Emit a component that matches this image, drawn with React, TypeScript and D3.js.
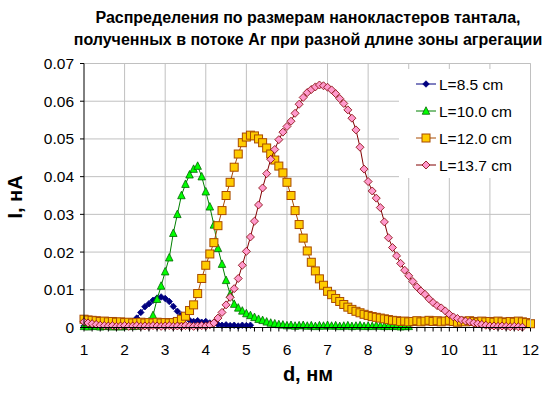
import React from "react";
import * as d3 from "d3";

const X_START = 1.0;
const X_STEP = 0.1;

const blueY = [
  0.0004, 0.0003, 0.0005, 0.0003, 0.0004, 0.0003, 0.0005, 0.0004, 0.0003, 0.0005,
  0.0004, 0.0006, 0.0012, 0.0025, 0.0040, 0.0055, 0.0063, 0.0072, 0.0078, 0.0081,
  0.0077, 0.0069, 0.0056, 0.0043, 0.0033, 0.0024, 0.0019, 0.0016, 0.0018, 0.0014,
  0.0016, 0.0012, 0.0013, 0.0008, 0.0006, 0.0007, 0.0005, 0.0006, 0.0004, 0.0006,
  0.0005, 0.0006,
];

const greenY = [
  0.0003, 0.0002, 0.0004, 0.0003, 0.0002, 0.0003, 0.0004, 0.0002, 0.0003, 0.0002,
  0.0003, 0.0004, 0.0003, 0.0004, 0.0005, 0.0006, 0.0015, 0.0032, 0.0075, 0.0110,
  0.0148, 0.0185, 0.0250, 0.0300, 0.0350, 0.0380, 0.0405, 0.0420, 0.0428, 0.0400,
  0.0360, 0.0320, 0.0272, 0.0210, 0.0168, 0.0125, 0.0088, 0.0062, 0.0052, 0.0044,
  0.0037, 0.0032, 0.0027, 0.0022, 0.0019, 0.0015, 0.0012, 0.0010, 0.0008, 0.0007,
  0.0005, 0.0006, 0.0004, 0.0005, 0.0006, 0.0004, 0.0005, 0.0003, 0.0005, 0.0004,
  0.0006, 0.0004, 0.0005, 0.0003, 0.0004, 0.0005, 0.0003, 0.0004, 0.0005, 0.0003,
  0.0004, 0.0003, 0.0005, 0.0004, 0.0003, 0.0004, 0.0003, 0.0004, 0.0002, 0.0003,
  0.0003,
];

const yellowY = [
  0.0022, 0.0020, 0.0019, 0.0018, 0.0016, 0.0017, 0.0015, 0.0016, 0.0014, 0.0015,
  0.0013, 0.0014, 0.0012, 0.0013, 0.0014, 0.0012, 0.0013, 0.0012, 0.0014, 0.0012,
  0.0013, 0.0012, 0.0013, 0.0016, 0.0022, 0.0030, 0.0045, 0.0060, 0.0090, 0.0130,
  0.0165, 0.0195, 0.0225, 0.0270, 0.0310, 0.0350, 0.0385, 0.0425, 0.0460, 0.0490,
  0.0505, 0.0510, 0.0508, 0.0500, 0.0490, 0.0476, 0.0460, 0.0444, 0.0428, 0.0410,
  0.0385, 0.0350, 0.0310, 0.0273, 0.0237, 0.0203, 0.0173, 0.0150, 0.0129, 0.0112,
  0.0096, 0.0087, 0.0077, 0.0069, 0.0061, 0.0054, 0.0048, 0.0043, 0.0039, 0.0035,
  0.0032, 0.0029, 0.0027, 0.0025, 0.0023, 0.0021, 0.0019, 0.0018, 0.0016, 0.0017,
  0.0015, 0.0016, 0.0018, 0.0015, 0.0017, 0.0019, 0.0016, 0.0018, 0.0015, 0.0017,
  0.0019, 0.0016, 0.0014, 0.0017, 0.0015, 0.0018, 0.0016, 0.0014, 0.0017, 0.0015,
  0.0016, 0.0014, 0.0017, 0.0015, 0.0013, 0.0016, 0.0014, 0.0017, 0.0015, 0.0013,
  0.0010,
];

const pinkY = [
  0.0015, 0.0012, 0.0010, 0.0008, 0.0006, 0.0005, 0.0004, 0.0005, 0.0003, 0.0004,
  0.0005, 0.0003, 0.0004, 0.0005, 0.0003, 0.0004, 0.0003, 0.0005, 0.0004, 0.0003,
  0.0004, 0.0005, 0.0003, 0.0004, 0.0003, 0.0005, 0.0004, 0.0003, 0.0004, 0.0005,
  0.0004, 0.0007, 0.0012, 0.0025, 0.0040, 0.0060, 0.0080, 0.0103, 0.0130, 0.0165,
  0.0202, 0.0240, 0.0282, 0.0325, 0.0370, 0.0408, 0.0446, 0.0472, 0.0498, 0.0518,
  0.0533, 0.0547, 0.0568, 0.0592, 0.0610, 0.0623, 0.0631, 0.0638, 0.0643, 0.0641,
  0.0637, 0.0630, 0.0620, 0.0607, 0.0594, 0.0577, 0.0555, 0.0524, 0.0478, 0.0420,
  0.0387, 0.0362, 0.0343, 0.0318, 0.0280, 0.0238, 0.0212, 0.0190, 0.0170, 0.0152,
  0.0137, 0.0122, 0.0108, 0.0097, 0.0088, 0.0076, 0.0066, 0.0058, 0.0052, 0.0044,
  0.0035, 0.0028, 0.0024, 0.0020, 0.0017, 0.0015, 0.0012, 0.0010, 0.0008, 0.0006,
  0.0004, 0.0004, 0.0003, 0.0004, 0.0003, 0.0002, 0.0003, 0.0002, 0.0001,
];

const seriesNames = ["L=8.5 cm", "L=10.0 cm", "L=12.0 cm", "L=13.7 cm"];
const xTicks = [1, 2, 3, 4, 5, 6, 7, 8, 9, 10, 11, 12];
const yTicks = [0, 0.01, 0.02, 0.03, 0.04, 0.05, 0.06, 0.07];
const titleLines = [
  "Распределения по размерам нанокластеров тантала,",
  "полученных в потоке Ar при разной длине зоны агрегации",
];
const xLabel = "d, нм";
const yLabel = "I, нА";

const FONT = "'Liberation Sans', Arial, sans-serif";

type Style = { line: string; fill: string; stroke: string; shape: string; size: number };
const styles: Style[] = [
  { line: "#000080", fill: "#000080", stroke: "#000080", shape: "diamond", size: 6.5 },
  { line: "#008000", fill: "#00FF00", stroke: "#006400", shape: "triangle", size: 7.5 },
  { line: "#A84A00", fill: "#FFCC00", stroke: "#A84A00", shape: "square", size: 8 },
  { line: "#800000", fill: "#FF99CC", stroke: "#800000", shape: "diamond", size: 8 },
];

function Marker({ cx, cy, s }: { cx: number; cy: number; s: Style }) {
  const h = s.size / 2;
  if (s.shape === "square") {
    return <rect x={cx - h} y={cy - h} width={s.size} height={s.size} fill={s.fill} stroke={s.stroke} strokeWidth={1} />;
  }
  if (s.shape === "triangle") {
    return (
      <path d={`M${cx},${cy - h - 0.5}L${cx + h},${cy + h - 0.5}L${cx - h},${cy + h - 0.5}Z`} fill={s.fill} stroke={s.stroke} strokeWidth={0.8} />
    );
  }
  return <path d={`M${cx},${cy - h}L${cx + h},${cy}L${cx},${cy + h}L${cx - h},${cy}Z`} fill={s.fill} stroke={s.stroke} strokeWidth={0.8} />;
}

export default function App() {
  const W = 548;
  const H = 397;
  const left = 84;
  const right = 530.5;
  const top = 63.5;
  const bottom = 327.5;

  const x = d3.scaleLinear().domain([1, 12]).range([left, right]);
  const y = d3.scaleLinear().domain([0, 0.07]).range([bottom, top]);

  const allSeries = [blueY, greenY, yellowY, pinkY].map((arr) =>
    arr.map((v, i) => ({ x: +(X_START + i * X_STEP).toFixed(2), y: v }))
  );

  const line = d3
    .line<{ x: number; y: number }>()
    .x((d) => x(d.x))
    .y((d) => y(d.y));

  const minorTicks = d3.range(0, 56).map((i) => 1 + i * 0.2);

  return (
    <svg width={W} height={H} style={{ position: "absolute", left: 0, top: 0, background: "#fff" }} fontFamily={FONT}>
      <rect x={0} y={0} width={W} height={H} fill="#fff" />
      {/* title */}
      {titleLines.map((t, i) => (
        <text key={i} x={308} y={23 + i * 22} textAnchor="middle" fontWeight="bold" fontSize={16} fill="#000">
          {t}
        </text>
      ))}
      {/* grid */}
      {xTicks.slice(1).map((t) => (
        <line key={"gx" + t} x1={x(t)} x2={x(t)} y1={top} y2={bottom} stroke="#C0C0C0" strokeWidth={1} />
      ))}
      {yTicks.slice(1).map((t) => (
        <line key={"gy" + t} x1={left} x2={right} y1={y(t)} y2={y(t)} stroke="#C0C0C0" strokeWidth={1} />
      ))}
      {/* series */}
      {allSeries.map((data, si) => (
        <g key={"s" + si}>
          <path d={line(data) || ""} fill="none" stroke={styles[si].line} strokeWidth={1} />
          {data.map((d, i) => (
            <Marker key={i} cx={x(d.x)} cy={y(d.y)} s={styles[si]} />
          ))}
        </g>
      ))}
      {/* axes */}
      <line x1={left} x2={left} y1={top} y2={bottom} stroke="#000" strokeWidth={1} />
      <line x1={left} x2={right} y1={bottom} y2={bottom} stroke="#000" strokeWidth={1} />
      {yTicks.map((t) => (
        <g key={"yt" + t}>
          <line x1={left - 4} x2={left} y1={y(t)} y2={y(t)} stroke="#000" />
          <text x={74} y={y(t) + 5.5} textAnchor="end" fontSize={15.5}>
            {t === 0 ? "0" : t.toFixed(2)}
          </text>
        </g>
      ))}
      {minorTicks.map((t, i) => (
        <line key={"mt" + i} x1={x(t)} x2={x(t)} y1={bottom} y2={bottom + 4} stroke="#000" />
      ))}
      {xTicks.map((t) => (
        <text key={"xt" + t} x={x(t)} y={355} textAnchor="middle" fontSize={15.5}>
          {t}
        </text>
      ))}
      {/* axis titles */}
      <text x={308} y={381} textAnchor="middle" fontWeight="bold" fontSize={20}>
        {xLabel}
      </text>
      <text transform="translate(22,197) rotate(-90)" textAnchor="middle" fontWeight="bold" fontSize={20}>
        {yLabel}
      </text>
      {/* legend */}
      <rect x={399} y={69} width={131} height={109} fill="#fff" />
      {seriesNames.map((n, i) => {
        const ly = 84 + i * 27;
        return (
          <g key={"lg" + i}>
            <line x1={416} x2={436} y1={ly} y2={ly} stroke={styles[i].line} strokeWidth={1} />
            <Marker cx={426} cy={ly} s={styles[i]} />
            <text x={439} y={ly + 5.5} fontSize={15.5}>
              {n}
            </text>
          </g>
        );
      })}
      <line x1={right} x2={right} y1={top} y2={bottom} stroke="#C0C0C0" />
    </svg>
  );
}
